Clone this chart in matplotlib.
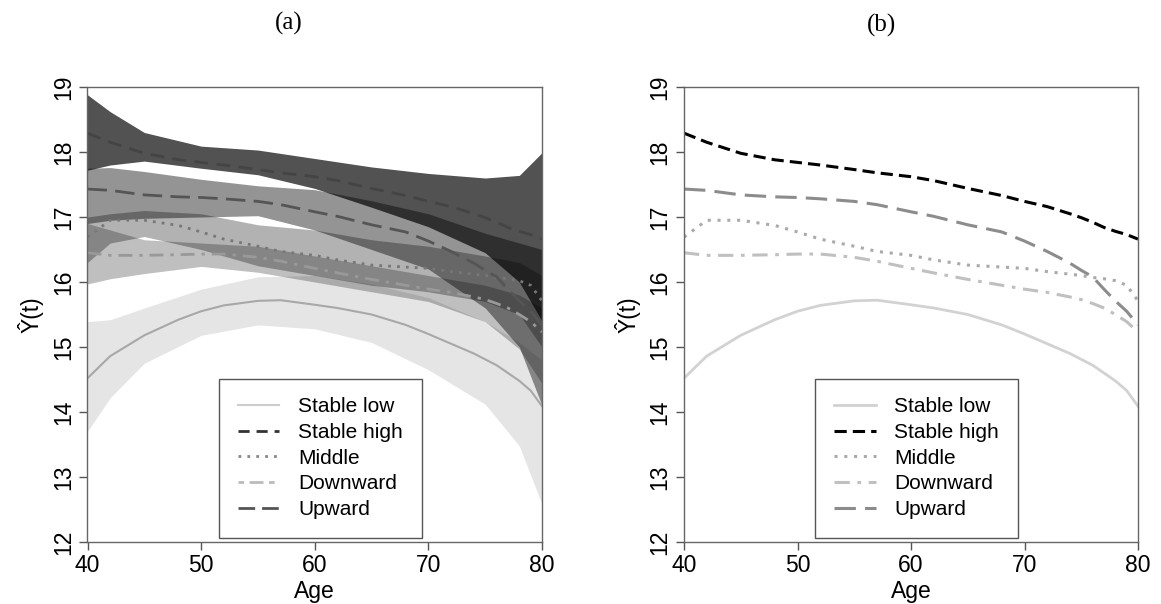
import matplotlib
matplotlib.use("Agg")
import matplotlib.pyplot as plt
from matplotlib.lines import Line2D

plt.rcParams['font.family'] = ['Liberation Sans', 'DejaVu Sans']

groups = ["Stable low", "Stable high", "Middle", "Downward", "Upward"]

ages = [40, 42, 45, 48, 50, 52, 55, 57, 60, 62, 65, 68, 70, 72, 74, 75, 76, 77, 78, 79, 80]
stable_low = [14.52, 14.86, 15.18, 15.42, 15.55, 15.64, 15.71, 15.72, 15.65, 15.60, 15.50,
              15.34, 15.20, 15.05, 14.90, 14.81, 14.72, 14.60, 14.48, 14.33, 14.09]
stable_high = [18.29, 18.15, 17.98, 17.88, 17.84, 17.80, 17.73, 17.68, 17.62, 17.56, 17.44,
               17.33, 17.24, 17.16, 17.05, 16.99, 16.92, 16.84, 16.78, 16.73, 16.66]
middle = [16.69, 16.95, 16.95, 16.87, 16.77, 16.66, 16.55, 16.47, 16.41, 16.34, 16.26,
          16.23, 16.21, 16.16, 16.12, 16.10, 16.07, 16.05, 16.02, 15.95, 15.71]
downward = [16.45, 16.41, 16.41, 16.42, 16.43, 16.43, 16.38, 16.32, 16.21, 16.14, 16.04,
            15.95, 15.89, 15.84, 15.77, 15.73, 15.67, 15.60, 15.50, 15.39, 15.23]
upward = [17.43, 17.41, 17.34, 17.31, 17.30, 17.28, 17.24, 17.19, 17.08, 17.01, 16.88,
          16.77, 16.63, 16.47, 16.29, 16.18, 16.08, 15.89, 15.71, 15.55, 15.34]

band_ages = [40, 42, 45, 50, 55, 60, 65, 70, 75, 78, 80]
low_up = [15.39, 15.42, 15.60, 15.89, 16.08, 16.10, 15.97, 15.76, 15.39, 15.07, 14.80]
low_lo = [13.70, 14.22, 14.75, 15.18, 15.34, 15.28, 15.07, 14.65, 14.12, 13.48, 12.58]
down_up = [16.90, 16.80, 16.65, 16.60, 16.55, 16.40, 16.25, 16.10, 15.95, 15.80, 15.60]
down_lo = [15.97, 16.05, 16.13, 16.24, 16.15, 16.00, 15.85, 15.70, 15.39, 14.97, 14.44]
mid_up = [17.00, 17.05, 17.10, 17.05, 16.88, 16.80, 16.65, 16.55, 16.40, 16.30, 16.10]
mid_lo = [16.30, 16.60, 16.70, 16.50, 16.25, 16.10, 15.95, 15.85, 15.70, 15.50, 15.00]
upw_up = [17.75, 17.76, 17.70, 17.58, 17.48, 17.42, 17.25, 17.05, 16.75, 16.60, 16.50]
upw_lo = [16.90, 16.95, 16.98, 17.00, 17.02, 16.80, 16.50, 16.20, 15.60, 15.00, 14.10]
high_up = [18.88, 18.62, 18.30, 18.09, 18.03, 17.90, 17.77, 17.67, 17.60, 17.64, 17.99]
high_lo = [17.72, 17.80, 17.86, 17.75, 17.65, 17.44, 17.15, 16.85, 16.45, 16.00, 15.40]

x_ticks = [40, 50, 60, 70, 80]
y_ticks = [12, 13, 14, 15, 16, 17, 18, 19]

fig = plt.figure(figsize=(11.61, 6.04), dpi=100)
W, H = 1161, 604
axA = fig.add_axes([87.5 / W, (604 - 542) / H, 454.5 / W, 455 / H])
axB = fig.add_axes([684 / W, (604 - 542) / H, 454 / W, 455 / H])

series = [stable_low, stable_high, middle, downward, upward]
bands = [(low_lo, low_up, 0.10), (down_lo, down_up, 0.25), (mid_lo, mid_up, 0.30),
         (upw_lo, upw_up, 0.42), (high_lo, high_up, 0.68)]
for lo, up, a in bands:
    axA.fill_between(band_ages, lo, up, color='black', alpha=a, linewidth=0)

styleA = [
    dict(color='#a8a8a8', ls='-', lw=1.5),
    dict(color='#444444', ls=(0, (5, 3)), lw=2.0),
    dict(color='#777777', ls=(0, (1, 2.2)), lw=2.0),
    dict(color='#999999', ls=(0, (5, 2.5, 1.2, 2.5)), lw=2.0),
    dict(color='#555555', ls=(0, (7, 3)), lw=2.0),
]
legA = [
    dict(color='#cccccc', ls='-', lw=1.5),
    dict(color='#333333', ls=(0, (4, 2.5)), lw=2.0),
    dict(color='#888888', ls=(0, (1, 2.2)), lw=2.0),
    dict(color='#bbbbbb', ls=(0, (2, 2, 5, 2)), lw=2.0),
    dict(color='#555555', ls=(0, (6, 2.5)), lw=2.0),
]
styleB = [
    dict(color='#d2d2d2', ls='-', lw=2.0),
    dict(color='#000000', ls=(0, (4, 2)), lw=2.2),
    dict(color='#aaaaaa', ls=(0, (1, 2.2)), lw=2.2),
    dict(color='#c0c0c0', ls=(0, (5, 2.5, 1.2, 2.5)), lw=2.2),
    dict(color='#8c8c8c', ls=(0, (7, 3)), lw=2.2),
]

for s, st in zip(series, styleA):
    axA.plot(ages, s, **st)
for s, st in zip(series, styleB):
    axB.plot(ages, s, **st)

for ax, lst in ((axA, legA), (axB, styleB)):
    ax.set_xlim(40, 80)
    ax.set_ylim(12, 19)
    ax.set_xticks(x_ticks)
    ax.set_yticks(y_ticks)
    ax.tick_params(direction='out', length=6, width=1, colors='#555555',
                   labelcolor='black', labelsize=16.5, pad=3)
    for lab in ax.get_yticklabels():
        lab.set_rotation(90)
        lab.set_va('center')
    for sp in ax.spines.values():
        sp.set_color('#666666')
        sp.set_linewidth(1)
    ax.set_xlabel('Age', fontsize=16.5, labelpad=2)
    ax.set_ylabel('Ŷ(t)', fontsize=16.5, labelpad=6)
    handles = [Line2D([0], [0], **st) for st in lst]
    leg = ax.legend(handles, groups, loc='center', bbox_to_anchor=(0.512, 0.184),
                    fontsize=15, frameon=True, fancybox=False, framealpha=1,
                    edgecolor='#555555', handlelength=2.0, handletextpad=0.9,
                    labelspacing=0.32, borderpad=0.9, borderaxespad=0)
    leg.get_frame().set_linewidth(1)

fig.text(288.5 / W, 1 - 23 / H, '(a)', ha='center', va='center', fontsize=18,
         family=['Liberation Serif', 'DejaVu Serif'])
fig.text(881 / W, 1 - 25 / H, '(b)', ha='center', va='center', fontsize=18,
         family=['Liberation Serif', 'DejaVu Serif'])

fig.savefig('out.png', dpi=100)
